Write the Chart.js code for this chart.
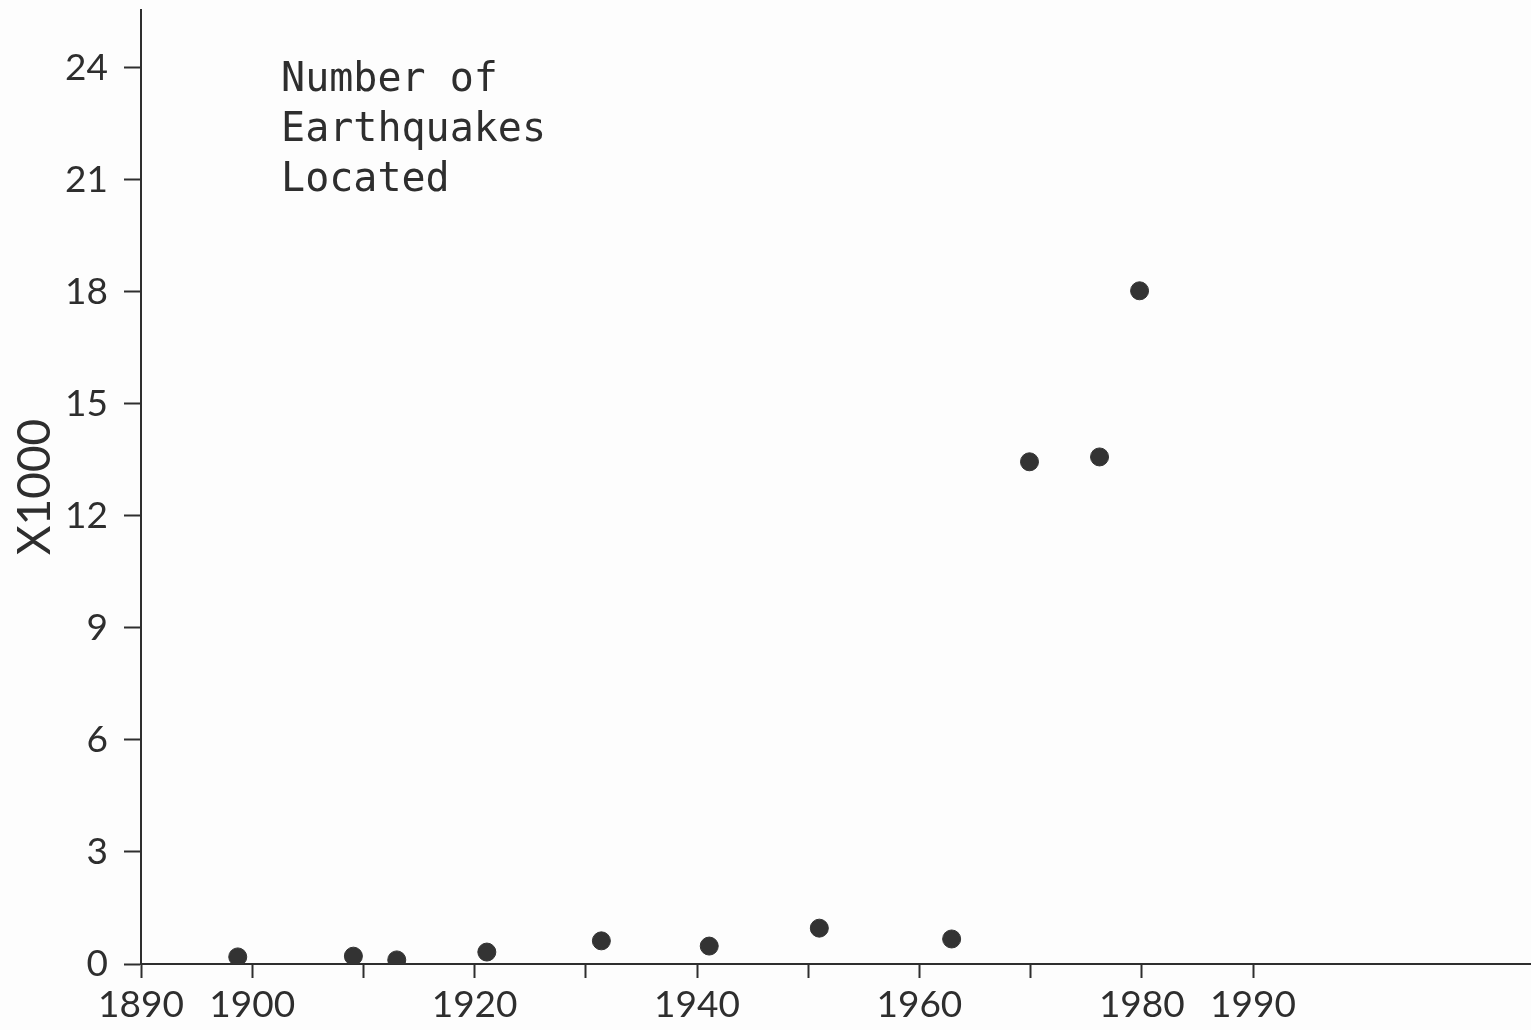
<!DOCTYPE html>
<html>
<head>
<meta charset="utf-8">
<script src="https://cdn.jsdelivr.net/npm/chart.js@4/dist/chart.umd.min.js"></script>
<style>
  html, body { margin: 0; padding: 0; background: #fdfdfd; }
  #wrap { width: 1531px; height: 1030px; }
</style>
</head>
<body>
<div id="wrap"><canvas id="c" width="1531" height="1030"></canvas></div>
<script>
// Year of each tally and the number of earthquakes located (thousands)
const years  = [1898.7, 1909.1, 1913.0, 1921.1, 1931.4, 1941.1, 1951.0, 1962.9, 1969.9, 1976.2, 1979.8];
const counts = [0.19, 0.21, 0.11, 0.32, 0.62, 0.48, 0.96, 0.67, 13.45, 13.58, 18.03];

// Axis ticks and which decade ticks carry a label
const xTicks = [1890, 1900, 1910, 1920, 1930, 1940, 1950, 1960, 1970, 1980, 1990];
const xLabelled = [1890, 1900, 1920, 1940, 1960, 1980, 1990];
const yTicks = [0, 3, 6, 9, 12, 15, 18, 21, 24];

const noteLines = ['Number of', 'Earthquakes', 'Located'];

const INK = '#2e2e2e';
const tickFont = { family: 'Lato', size: 37 };

const notePlugin = {
  id: 'note',
  afterDraw(chart) {
    const ctx = chart.ctx;
    const xs = chart.scales.x, ys = chart.scales.y;
    const x0 = xs.getPixelForValue(1902.6);
    const y0 = ys.getPixelForValue(23.38);
    ctx.save();
    ctx.fillStyle = INK;
    ctx.font = '40px "DejaVu Sans Mono"';
    ctx.textBaseline = 'alphabetic';
    noteLines.forEach((t, i) => ctx.fillText(t, x0, y0 + i * 50));
    ctx.restore();
  }
};

new Chart(document.getElementById('c'), {
  type: 'scatter',
  data: {
    datasets: [{
      data: years.map((y, i) => ({ x: y, y: counts[i] })),
      backgroundColor: '#333333',
      borderColor: '#333333',
      pointRadius: 9,
      pointHoverRadius: 9
    }]
  },
  options: {
    responsive: false,
    animation: false,
    layout: { autoPadding: false, padding: { top: 10, right: 0, left: 0, bottom: 0 } },
    plugins: { legend: { display: false }, tooltip: { enabled: false } },
    scales: {
      x: {
        type: 'linear',
        min: 1890,
        max: 2015,
        afterBuildTicks(s) { s.ticks = xTicks.map(v => ({ value: v })); },
        afterFit(s) { s.height = 66; s.paddingLeft = 0; s.paddingRight = 0; },
        grid: { drawOnChartArea: false, drawTicks: true, tickLength: 14, tickWidth: 2, tickColor: INK },
        border: { display: true, color: INK, width: 2 },
        ticks: {
          color: INK,
          font: tickFont,
          padding: 5,
          maxRotation: 0,
          autoSkip: false,
          callback: v => xLabelled.includes(v) ? String(v) : ''
        }
      },
      y: {
        type: 'linear',
        min: 0,
        max: 25.55,
        afterBuildTicks(s) { s.ticks = yTicks.map(v => ({ value: v })); },
        afterFit(s) { s.width = 141; s.paddingTop = 0; s.paddingBottom = 0; },
        grid: { drawOnChartArea: false, drawTicks: true, tickLength: 17, tickWidth: 2, tickColor: INK },
        border: { display: true, color: INK, width: 2 },
        ticks: { color: INK, font: tickFont, padding: 16 },
        title: {
          display: true,
          text: 'X1000',
          color: INK,
          font: { family: 'Lato', size: 46 },
          padding: { top: 8, bottom: 0 }
        }
      }
    }
  },
  plugins: [notePlugin]
});
</script>
</body>
</html>
